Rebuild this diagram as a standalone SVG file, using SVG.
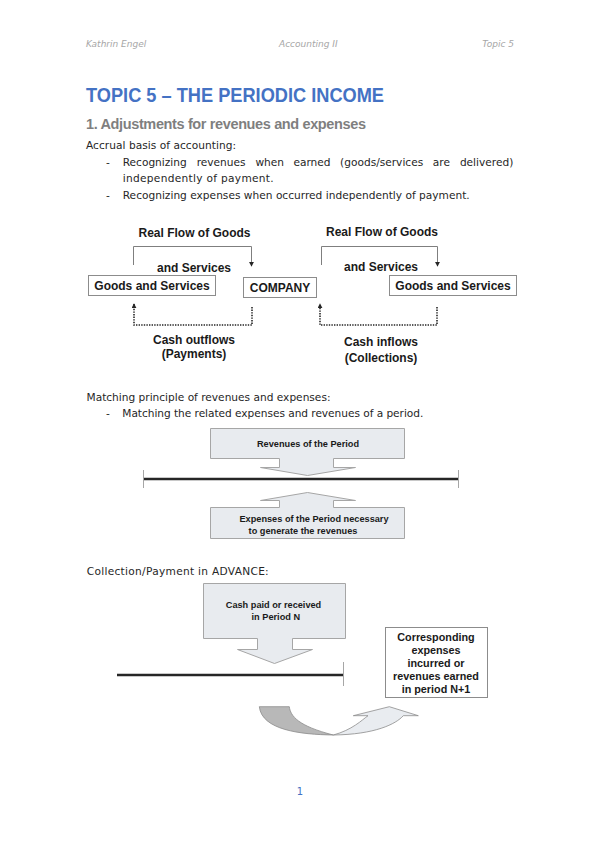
<svg xmlns="http://www.w3.org/2000/svg" width="599" height="848" viewBox="0 0 599 848">
<style>
.hdr{font-family:"DejaVu Sans",sans-serif;font-style:italic;font-size:9px;fill:#a6a6a6}
.body{font-family:"DejaVu Sans",sans-serif;font-size:10.6px;fill:#262626}
.lbl{font-family:"Liberation Sans",Arial,sans-serif;font-weight:bold;font-size:12px;fill:#1a1a1a}
.sm{font-family:"Liberation Sans",Arial,sans-serif;font-weight:bold;font-size:9.2px;fill:#1a1a1a;text-anchor:middle}
.md{font-family:"Liberation Sans",Arial,sans-serif;font-weight:bold;font-size:10.8px;fill:#1a1a1a;text-anchor:middle}
.box{fill:#fff;stroke:#8c8c8c;stroke-width:1}
.flow{fill:none;stroke:#7f7f7f;stroke-width:1}
.cash{fill:none;stroke:#262626;stroke-width:1.6;stroke-dasharray:1.4 1.2}
.call{fill:#e8ebef;stroke:#a6a6a6;stroke-width:1}
.tl{stroke:#262626;stroke-width:2.4}
.tick{stroke:#a6a6a6;stroke-width:1}
</style>
<defs>
<marker id="ah" viewBox="0 0 6 6" refX="5" refY="3" markerWidth="5" markerHeight="5" orient="auto" markerUnits="userSpaceOnUse">
<path d="M0,0 L6,3 L0,6 Z" fill="#262626"/>
</marker>
</defs>

<g id="header">
<text class="hdr" x="86" y="47">Kathrin Engel</text>
<text class="hdr" x="279" y="47">Accounting II</text>
<text class="hdr" x="514" y="47" text-anchor="end">Topic 5</text>
</g>

<g id="title">
<text x="86" y="102" font-family="Liberation Sans, Arial, sans-serif" font-weight="bold" font-size="19.5" fill="#4472c4" textLength="298" lengthAdjust="spacingAndGlyphs">TOPIC 5 – THE PERIODIC INCOME</text>
<text x="86" y="128.5" font-family="Liberation Sans, Arial, sans-serif" font-weight="bold" font-size="14.5" fill="#7f7f7f" textLength="280" lengthAdjust="spacing">1. Adjustments for revenues and expenses</text>
</g>

<g id="text-accrual">
<text class="body" x="86" y="148.5" textLength="150" lengthAdjust="spacing">Accrual basis of accounting:</text>
<text class="body" x="106" y="165.5">-</text>
<text class="body" x="122.7" y="165.5">Recognizing</text>
<text class="body" x="196.7" y="165.5">revenues</text>
<text class="body" x="255.4" y="165.5">when</text>
<text class="body" x="293.4" y="165.5">earned</text>
<text class="body" x="340.1" y="165.5">(goods/services</text>
<text class="body" x="432.8" y="165.5">are</text>
<text class="body" x="513.3" y="165.5" text-anchor="end">delivered)</text>
<text class="body" x="122.7" y="181.5" textLength="151" lengthAdjust="spacing">independently of payment.</text>
<text class="body" x="106" y="198.5">-</text>
<text class="body" x="122.7" y="198.5" textLength="347" lengthAdjust="spacing">Recognizing expenses when occurred independently of payment.</text>
</g>

<g id="node-goods-left">
<rect class="box" x="88.5" y="275.5" width="127" height="20"/>
<text class="lbl" x="152" y="290" text-anchor="middle">Goods and Services</text>
</g>
<g id="node-company">
<rect class="box" x="243.5" y="277.5" width="73" height="20"/>
<text class="lbl" x="280" y="291.5" text-anchor="middle">COMPANY</text>
</g>
<g id="node-goods-right">
<rect class="box" x="389.5" y="275.5" width="127" height="20"/>
<text class="lbl" x="453" y="290" text-anchor="middle">Goods and Services</text>
</g>

<g id="connectors">
<path class="flow" d="M133.5,265 V246.5 H251.5 V266" marker-end="url(#ah)"/>
<path class="flow" d="M321.5,265 V246.5 H437.5 V266" marker-end="url(#ah)"/>
<path class="cash" d="M252,307 V325 H134 V304" marker-end="url(#ah)"/>
<path class="cash" d="M437,307 V325 H320 V304" marker-end="url(#ah)"/>
</g>

<g id="labels-flow">
<text class="lbl" x="194.5" y="237" text-anchor="middle">Real Flow of Goods</text>
<text class="lbl" x="194" y="272" text-anchor="middle">and Services</text>
<text class="lbl" x="194" y="344" text-anchor="middle">Cash outflows</text>
<text class="lbl" x="194" y="358" text-anchor="middle">(Payments)</text>
<text class="lbl" x="382" y="236" text-anchor="middle">Real Flow of Goods</text>
<text class="lbl" x="381" y="270.5" text-anchor="middle">and Services</text>
<text class="lbl" x="381" y="346" text-anchor="middle">Cash inflows</text>
<text class="lbl" x="381" y="362" text-anchor="middle">(Collections)</text>
</g>

<g id="text-matching">
<text class="body" x="86.5" y="401" textLength="244" lengthAdjust="spacing">Matching principle of revenues and expenses:</text>
<text class="body" x="106" y="417.3">-</text>
<text class="body" x="122.3" y="417.3" textLength="301" lengthAdjust="spacing">Matching the related expenses and revenues of a period.</text>
</g>

<g id="node-revenues">
<path class="call" d="M210.5,428.5 H404.5 V458.5 H333.5 V467.5 H355.5 L307.5,475.5 L260.5,467.5 H279.5 V458.5 H210.5 Z"/>
<text class="sm" x="308" y="447">Revenues of the Period</text>
</g>
<g id="timeline-1">
<line class="tl" x1="143" y1="479" x2="458" y2="479"/>
<line class="tick" x1="143.5" y1="470" x2="143.5" y2="488"/>
<line class="tick" x1="458.5" y1="470" x2="458.5" y2="488"/>
</g>
<g id="node-expenses">
<path class="call" d="M307.5,492.5 L355.5,500.5 H333.5 V507.5 H404.5 V538.5 H210.5 V507.5 H279.5 V500.5 H260.5 Z"/>
<text class="sm" x="314" y="522">Expenses of the Period necessary</text>
<text class="sm" x="303" y="533.5">to generate the revenues</text>
</g>

<g id="text-advance">
<text class="body" x="86.7" y="574.5" textLength="182" lengthAdjust="spacing">Collection/Payment in ADVANCE:</text>
</g>

<g id="node-cash">
<path class="call" d="M203.5,583.5 H345.5 V638.5 H292.5 V649.5 H312.5 L274.5,663.5 L237.5,649.5 H257.5 V638.5 H203.5 Z"/>
<text class="sm" x="273.5" y="607.5" font-size="9.6">Cash paid or received</text>
<text class="sm" x="275.8" y="619.5" font-size="9.6">in Period N</text>
</g>
<g id="timeline-2">
<line class="tl" x1="117" y1="675" x2="343" y2="675"/>
<line class="tick" x1="343.5" y1="662" x2="343.5" y2="686"/>
</g>
<g id="node-corresponding">
<rect class="box" x="385.5" y="627.5" width="102" height="70" stroke="#a0a0a0"/>
<text class="md" x="436" y="641">Corresponding</text>
<text class="md" x="436" y="654">expenses</text>
<text class="md" x="436" y="667">incurred or</text>
<text class="md" x="436" y="680">revenues earned</text>
<text class="md" x="436" y="693">in period N+1</text>
</g>

<g id="node-curved-arrow">
<path d="M259.3,706.7 H289.3 C290.5,716 298,726 333.3,735 C300,734.5 262,730 259.3,706.7 Z" fill="#b8b8b8" stroke="#8c8c8c" stroke-width="0.8"/>
<path d="M333.3,735 C352,730 362,720 368,715.7 H353.3 L389.3,706.7 L418.3,715.7 H403.3 C396,724 375,734.5 333.3,735 Z" fill="#e9ecf0" stroke="#8c8c8c" stroke-width="0.8"/>
</g>

<g id="page-number">
<text x="300" y="795" text-anchor="middle" font-family="DejaVu Sans, sans-serif" font-size="10" fill="#4472c4">1</text>
</g>
</svg>
